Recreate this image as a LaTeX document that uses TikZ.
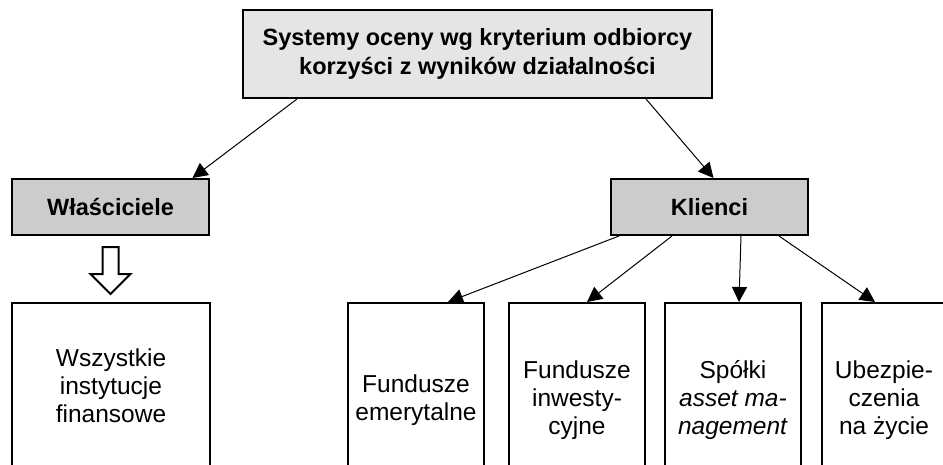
\documentclass[tikz,border=0pt]{standalone}
\usepackage{fontspec}
\setmainfont{Liberation Sans}
\usetikzlibrary{arrows.meta}

\begin{document}
\begin{tikzpicture}[x=1pt, y=-1pt,
  box/.style={draw, line width=2pt, inner sep=0pt, align=center,
    font=\fontsize{24.5}{28}\selectfont},
  head/.style={box, fill=black!20, minimum width=197pt, minimum height=56pt,
    font=\fontsize{23.5}{27.5}\selectfont\bfseries},
  leaf/.style={box, minimum width=136pt, minimum height=194pt},
  link/.style={line width=1pt, -{Triangle[length=15pt,width=15pt]}}]
\useasboundingbox (0,0) rectangle (943,464);
\clip (0,0) rectangle (943,464);

\node[box, fill=black!10, minimum width=469pt, minimum height=88pt,
  font=\fontsize{23.5}{29}\selectfont\bfseries] (sys) at (477.5,54)
  {Systemy oceny wg kryterium odbiorcy\\korzyści z wyników działalności};
\node[head] (own) at (110.5,207) {Właściciele};
\node[head] (cli) at (709.5,207) {Klienci};

\node[box, minimum width=198pt, minimum height=166pt] (all) at (111,386)
  {Wszystkie\\instytucje\\finansowe};
\node[leaf] (pen) at (416,400) {Fundusze\\emerytalne};
\node[leaf] (inv) at (577,400) {Fundusze\\inwesty-\\cyjne};
\node[leaf] (asm) at (733,400) {Spółki\\\textit{asset ma-}\\\textit{nagement}};
\node[leaf, minimum width=124pt] (ins) at (884,400) {Ubezpie-\\czenia\\na życie};

% top level
\draw[link] ([xshift=55pt]sys.south west) -- ([xshift=82pt]own.north);
\draw[link] ([xshift=-67pt]sys.south east) -- ([xshift=4pt]cli.north);

% hollow arrow to all institutions
\draw[line width=2pt, fill=white] ([shift={(-8,11)}]own.south) -- ++(16,0) -- ++(0,27)
  -- ++(12,0) -- ++(-20,20) -- ++(-20,-20) -- ++(12,0) -- cycle;

% clients
\draw[link] ([xshift=9pt]cli.south west) -- ([xshift=32pt]pen.north);
\draw[link] ([xshift=62pt]cli.south west) -- ([xshift=10pt]inv.north);
\draw[link] ([xshift=131pt]cli.south west) -- ([xshift=6pt]asm.north);
\draw[link] ([xshift=169pt]cli.south west) -- ([xshift=-9pt]ins.north);
\end{tikzpicture}
\end{document}
